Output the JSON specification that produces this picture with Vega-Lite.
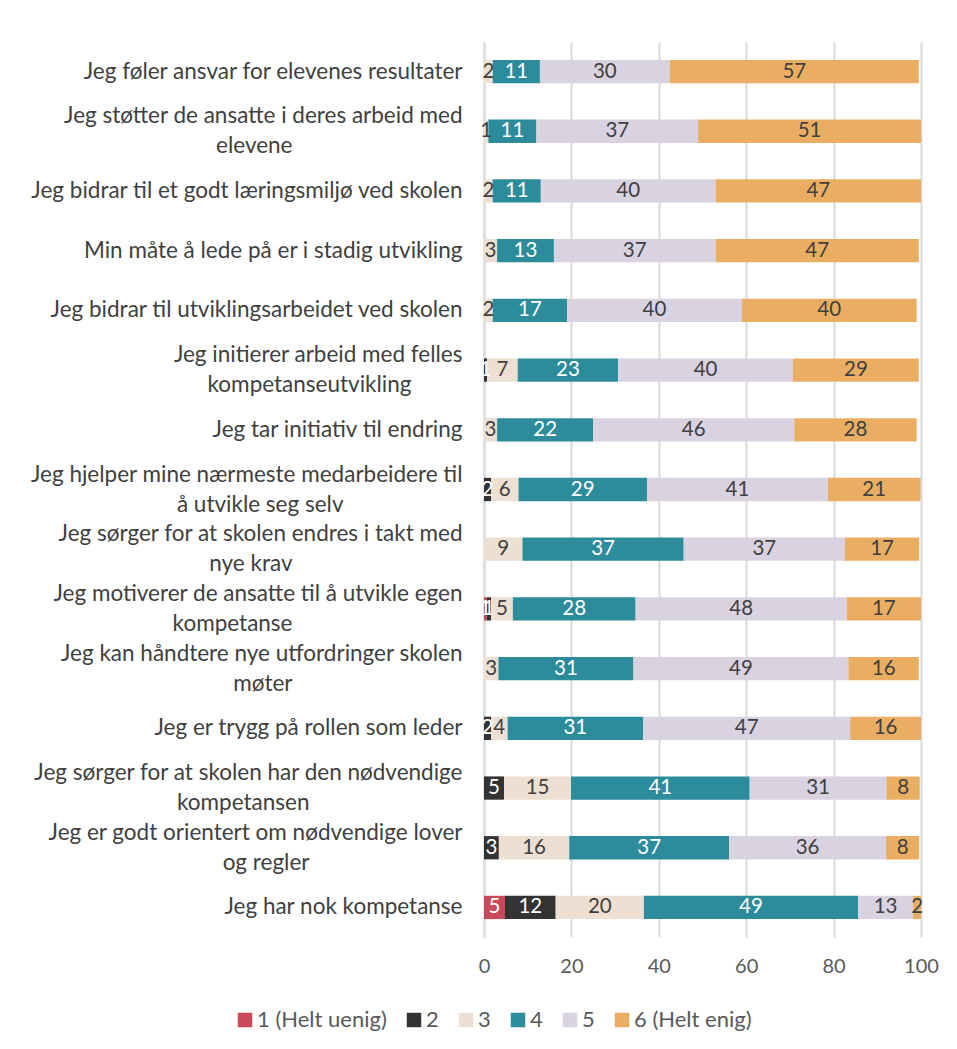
{
  "$schema": "https://vega.github.io/schema/vega-lite/v6.json",
  "autosize": "none",
  "width": 437,
  "height": 895,
  "padding": {"left": 484, "top": 42, "right": 36, "bottom": 112},
  "background": "white",
  "config": {
    "font": "Lato",
    "view": {"stroke": null}
  },
  "data": {
    "values": [
      {"q": "Jeg føler ansvar for elevenes resultater", "cat": "3", "k": 3, "v": 2},
      {"q": "Jeg føler ansvar for elevenes resultater", "cat": "4", "k": 4, "v": 10.8},
      {"q": "Jeg føler ansvar for elevenes resultater", "cat": "5", "k": 5, "v": 29.7},
      {"q": "Jeg føler ansvar for elevenes resultater", "cat": "6 (Helt enig)", "k": 6, "v": 57},
      {"q": "Jeg støtter de ansatte i deres arbeid med\nelevene", "cat": "3", "k": 3, "v": 1},
      {"q": "Jeg støtter de ansatte i deres arbeid med\nelevene", "cat": "4", "k": 4, "v": 11},
      {"q": "Jeg støtter de ansatte i deres arbeid med\nelevene", "cat": "5", "k": 5, "v": 37},
      {"q": "Jeg støtter de ansatte i deres arbeid med\nelevene", "cat": "6 (Helt enig)", "k": 6, "v": 51},
      {"q": "Jeg bidrar til et godt læringsmiljø ved skolen", "cat": "3", "k": 3, "v": 2},
      {"q": "Jeg bidrar til et godt læringsmiljø ved skolen", "cat": "4", "k": 4, "v": 11},
      {"q": "Jeg bidrar til et godt læringsmiljø ved skolen", "cat": "5", "k": 5, "v": 40},
      {"q": "Jeg bidrar til et godt læringsmiljø ved skolen", "cat": "6 (Helt enig)", "k": 6, "v": 47},
      {"q": "Min måte å lede på er i stadig utvikling", "cat": "3", "k": 3, "v": 3},
      {"q": "Min måte å lede på er i stadig utvikling", "cat": "4", "k": 4, "v": 13},
      {"q": "Min måte å lede på er i stadig utvikling", "cat": "5", "k": 5, "v": 37},
      {"q": "Min måte å lede på er i stadig utvikling", "cat": "6 (Helt enig)", "k": 6, "v": 46.5},
      {"q": "Jeg bidrar til utviklingsarbeidet ved skolen", "cat": "3", "k": 3, "v": 2},
      {"q": "Jeg bidrar til utviklingsarbeidet ved skolen", "cat": "4", "k": 4, "v": 17},
      {"q": "Jeg bidrar til utviklingsarbeidet ved skolen", "cat": "5", "k": 5, "v": 40},
      {"q": "Jeg bidrar til utviklingsarbeidet ved skolen", "cat": "6 (Helt enig)", "k": 6, "v": 40},
      {"q": "Jeg initierer arbeid med felles\nkompetanseutvikling", "cat": "2", "k": 2, "v": 0.7},
      {"q": "Jeg initierer arbeid med felles\nkompetanseutvikling", "cat": "3", "k": 3, "v": 7},
      {"q": "Jeg initierer arbeid med felles\nkompetanseutvikling", "cat": "4", "k": 4, "v": 23},
      {"q": "Jeg initierer arbeid med felles\nkompetanseutvikling", "cat": "5", "k": 5, "v": 40},
      {"q": "Jeg initierer arbeid med felles\nkompetanseutvikling", "cat": "6 (Helt enig)", "k": 6, "v": 28.8},
      {"q": "Jeg tar initiativ til endring", "cat": "3", "k": 3, "v": 3},
      {"q": "Jeg tar initiativ til endring", "cat": "4", "k": 4, "v": 22},
      {"q": "Jeg tar initiativ til endring", "cat": "5", "k": 5, "v": 46},
      {"q": "Jeg tar initiativ til endring", "cat": "6 (Helt enig)", "k": 6, "v": 28},
      {"q": "Jeg hjelper mine nærmeste medarbeidere til\nå utvikle seg selv", "cat": "2", "k": 2, "v": 1.6},
      {"q": "Jeg hjelper mine nærmeste medarbeidere til\nå utvikle seg selv", "cat": "3", "k": 3, "v": 6.3},
      {"q": "Jeg hjelper mine nærmeste medarbeidere til\nå utvikle seg selv", "cat": "4", "k": 4, "v": 29.4},
      {"q": "Jeg hjelper mine nærmeste medarbeidere til\nå utvikle seg selv", "cat": "5", "k": 5, "v": 41.4},
      {"q": "Jeg hjelper mine nærmeste medarbeidere til\nå utvikle seg selv", "cat": "6 (Helt enig)", "k": 6, "v": 21.2},
      {"q": "Jeg sørger for at skolen endres i takt med\nnye krav", "cat": "3", "k": 3, "v": 8.8},
      {"q": "Jeg sørger for at skolen endres i takt med\nnye krav", "cat": "4", "k": 4, "v": 36.9},
      {"q": "Jeg sørger for at skolen endres i takt med\nnye krav", "cat": "5", "k": 5, "v": 36.9},
      {"q": "Jeg sørger for at skolen endres i takt med\nnye krav", "cat": "6 (Helt enig)", "k": 6, "v": 17},
      {"q": "Jeg motiverer de ansatte til å utvikle egen\nkompetanse", "cat": "1 (Helt uenig)", "k": 1, "v": 0.6},
      {"q": "Jeg motiverer de ansatte til å utvikle egen\nkompetanse", "cat": "2", "k": 2, "v": 1},
      {"q": "Jeg motiverer de ansatte til å utvikle egen\nkompetanse", "cat": "3", "k": 3, "v": 5},
      {"q": "Jeg motiverer de ansatte til å utvikle egen\nkompetanse", "cat": "4", "k": 4, "v": 28.1},
      {"q": "Jeg motiverer de ansatte til å utvikle egen\nkompetanse", "cat": "5", "k": 5, "v": 48.3},
      {"q": "Jeg motiverer de ansatte til å utvikle egen\nkompetanse", "cat": "6 (Helt enig)", "k": 6, "v": 17},
      {"q": "Jeg kan håndtere nye utfordringer skolen\nmøter", "cat": "3", "k": 3, "v": 3.3},
      {"q": "Jeg kan håndtere nye utfordringer skolen\nmøter", "cat": "4", "k": 4, "v": 30.9},
      {"q": "Jeg kan håndtere nye utfordringer skolen\nmøter", "cat": "5", "k": 5, "v": 49.2},
      {"q": "Jeg kan håndtere nye utfordringer skolen\nmøter", "cat": "6 (Helt enig)", "k": 6, "v": 16.1},
      {"q": "Jeg er trygg på rollen som leder", "cat": "2", "k": 2, "v": 1.6},
      {"q": "Jeg er trygg på rollen som leder", "cat": "3", "k": 3, "v": 3.8},
      {"q": "Jeg er trygg på rollen som leder", "cat": "4", "k": 4, "v": 31},
      {"q": "Jeg er trygg på rollen som leder", "cat": "5", "k": 5, "v": 47.4},
      {"q": "Jeg er trygg på rollen som leder", "cat": "6 (Helt enig)", "k": 6, "v": 16.2},
      {"q": "Jeg sørger for at skolen har den nødvendige\nkompetansen", "cat": "2", "k": 2, "v": 4.6},
      {"q": "Jeg sørger for at skolen har den nødvendige\nkompetansen", "cat": "3", "k": 3, "v": 15.3},
      {"q": "Jeg sørger for at skolen har den nødvendige\nkompetansen", "cat": "4", "k": 4, "v": 40.9},
      {"q": "Jeg sørger for at skolen har den nødvendige\nkompetansen", "cat": "5", "k": 5, "v": 31.3},
      {"q": "Jeg sørger for at skolen har den nødvendige\nkompetansen", "cat": "6 (Helt enig)", "k": 6, "v": 7.6},
      {"q": "Jeg er godt orientert om nødvendige lover\nog regler", "cat": "2", "k": 2, "v": 3.4},
      {"q": "Jeg er godt orientert om nødvendige lover\nog regler", "cat": "3", "k": 3, "v": 16.1},
      {"q": "Jeg er godt orientert om nødvendige lover\nog regler", "cat": "4", "k": 4, "v": 36.6},
      {"q": "Jeg er godt orientert om nødvendige lover\nog regler", "cat": "5", "k": 5, "v": 35.9},
      {"q": "Jeg er godt orientert om nødvendige lover\nog regler", "cat": "6 (Helt enig)", "k": 6, "v": 7.6},
      {"q": "Jeg har nok kompetanse", "cat": "1 (Helt uenig)", "k": 1, "v": 4.8},
      {"q": "Jeg har nok kompetanse", "cat": "2", "k": 2, "v": 11.6},
      {"q": "Jeg har nok kompetanse", "cat": "3", "k": 3, "v": 20.2},
      {"q": "Jeg har nok kompetanse", "cat": "4", "k": 4, "v": 49},
      {"q": "Jeg har nok kompetanse", "cat": "5", "k": 5, "v": 12.6},
      {"q": "Jeg har nok kompetanse", "cat": "6 (Helt enig)", "k": 6, "v": 1.8}
    ]
  },
  "encoding": {
    "y": {
      "field": "q",
      "type": "nominal",
      "sort": null,
      "scale": {"paddingInner": 0.61, "paddingOuter": 0.3},
      "axis": {
        "title": null,
        "ticks": false,
        "domainColor": "#D9D9D9",
        "domainWidth": 2,
        "labelFontSize": 22.5,
        "labelColor": "#404040",
        "labelPadding": 22,
        "labelLimit": 600,
        "labelLineHeight": 30,
        "labelOffset": {"condition": {"test": "indexof(datum.value, '\\n') >= 0", "value": -15}, "value": 0},
        "labelExpr": "indexof(datum.label, '\\n') < 0 ? datum.label : [split(datum.label, '\\n')[0], pad(split(datum.label, '\\n')[1], length(split(datum.label, '\\n')[1]) + round((length(split(datum.label, '\\n')[0]) - length(split(datum.label, '\\n')[1])) * 0.29), '\u2800')]"
      }
    },
    "x": {
      "field": "v",
      "type": "quantitative",
      "stack": "zero",
      "scale": {"domain": [0, 100]},
      "axis": {
        "title": null,
        "values": [0, 20, 40, 60, 80, 100],
        "ticks": false,
        "domain": false,
        "labelFlush": false,
        "gridColor": "#D9D9D9",
        "gridWidth": 2,
        "labelFontSize": 20,
        "labelColor": "#595959",
        "labelPadding": 19
      }
    },
    "order": {"field": "k", "type": "quantitative"}
  },
  "layer": [
    {
      "mark": {"type": "bar"},
      "encoding": {
        "color": {
          "field": "cat",
          "type": "nominal",
          "scale": {
            "domain": ["1 (Helt uenig)", "2", "3", "4", "5", "6 (Helt enig)"],
            "range": ["#C9495A", "#333333", "#EDE0D2", "#2C8C9C", "#D9D2E0", "#EAAE62"]
          },
          "legend": {
            "title": null,
            "orient": "none",
            "direction": "horizontal",
            "legendX": -250,
            "legendY": 967,
            "symbolType": "square",
            "symbolSize": 210,
            "symbolStrokeWidth": 0,
            "labelFontSize": 22,
            "labelColor": "#595959",
            "columnPadding": 16,
            "labelOffset": 1
          }
        }
      }
    },
    {
      "mark": {"type": "text", "fontSize": 20.5},
      "encoding": {
        "x": {"field": "v", "type": "quantitative", "stack": "zero", "bandPosition": 0.5},
        "text": {"field": "v", "type": "quantitative", "format": ".0f"},
        "color": {
          "condition": {"test": "datum.k == 1 || datum.k == 2 || datum.k == 4", "value": "white"},
          "value": "#404040"
        }
      }
    }
  ]
}
